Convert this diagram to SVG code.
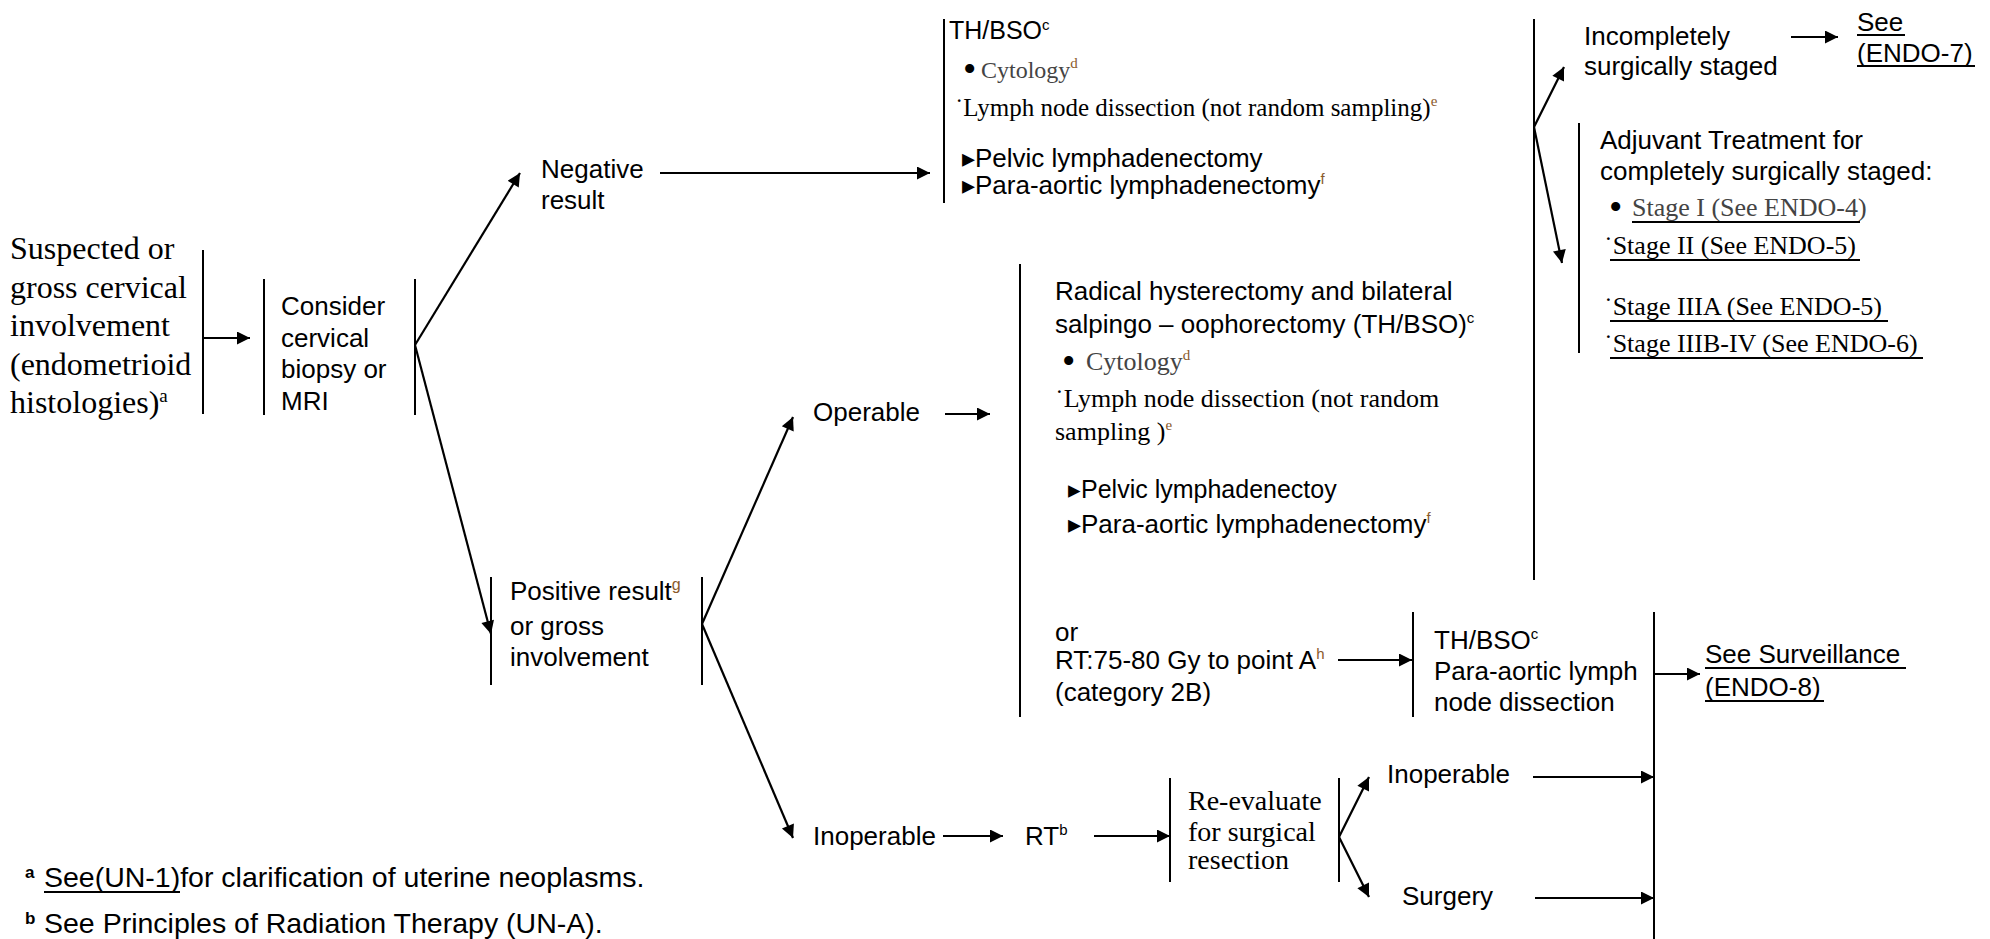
<svg xmlns="http://www.w3.org/2000/svg" width="1990" height="939" viewBox="0 0 1990 939">
<defs>
<style>
.a{font-family:"Liberation Sans",Arial,sans-serif;font-size:26px;fill:#000}
.t{font-family:"Liberation Serif","Times New Roman",serif;font-size:26px;fill:#000}
.bu{font-family:"Liberation Serif","Times New Roman",serif;font-size:38px;fill:#000}
.g{fill:#444}
.br{fill:#8a5a2b}
.bar{stroke:#000;stroke-width:2;fill:none}
.ul{stroke:#000;stroke-width:2}
.ar{stroke:#000;stroke-width:2.2;fill:none;marker-end:url(#ah)}
</style>
<marker id="ah" viewBox="0 0 10 10" refX="10" refY="5" markerWidth="16" markerHeight="13" markerUnits="userSpaceOnUse" orient="auto">
<path d="M0,0 L10,5 L0,10 z" fill="#000"/>
</marker>
</defs>
<rect width="1990" height="939" fill="#fff"/>

<g id="suspected">
<line class="bar" x1="203" y1="250" x2="203" y2="414"/>
<text class="t" style="font-size:32px" x="10" y="259">Suspected or</text>
<text class="t" style="font-size:32px" x="10" y="297.5">gross cervical</text>
<text class="t" style="font-size:32px" x="10" y="336">involvement</text>
<text class="t" style="font-size:32px" x="10" y="374.5">(endometrioid</text>
<text class="t" style="font-size:32px" x="10" y="413">histologies)<tspan font-size="19" dy="-11">a</tspan></text>
</g>

<g id="consider">
<line class="bar" x1="264" y1="279" x2="264" y2="415"/>
<line class="bar" x1="415" y1="279" x2="415" y2="415"/>
<text class="a" x="281" y="315">Consider</text>
<text class="a" x="281" y="347">cervical</text>
<text class="a" x="281" y="378">biopsy or</text>
<text class="a" x="281" y="410">MRI</text>
</g>

<g id="negative">
<text class="a" x="541" y="178">Negative</text>
<text class="a" x="541" y="209">result</text>
</g>

<g id="thbso-top">
<line class="bar" x1="944" y1="19" x2="944" y2="203"/>
<text class="a" x="949" y="39" style="font-size:25px">TH/BSO<tspan font-size="15" dy="-9">c</tspan></text>
<text class="bu" x="963" y="82">•</text>
<text class="t g" x="981" y="78" style="font-size:24px">Cytology<tspan class="br" font-size="15" dy="-10">d</tspan></text>
<text class="t" x="955" y="116" style="font-size:25px">˙Lymph node dissection (not random sampling)<tspan class="br" font-size="15" dy="-10">e</tspan></text>
<text class="a" x="962" y="167">▸Pelvic lymphadenectomy</text>
<text class="a" x="962" y="194">▸Para-aortic lymphadenectomy<tspan class="br" font-size="15" dy="-10">f</tspan></text>
</g>

<g id="incomplete">
<line class="bar" x1="1534" y1="19" x2="1534" y2="580"/>
<text class="a" x="1584" y="45">Incompletely</text>
<text class="a" x="1584" y="75">surgically staged</text>
</g>

<g id="endo7">
<text class="a" x="1857" y="31">See</text>
<line class="ul" x1="1857" y1="35" x2="1905" y2="35"/>
<text class="a" x="1857" y="62">(ENDO-7)</text>
<line class="ul" x1="1857" y1="66" x2="1975" y2="66"/>
</g>

<g id="adjuvant">
<line class="bar" x1="1579" y1="123" x2="1579" y2="353"/>
<text class="a" x="1600" y="149">Adjuvant Treatment for</text>
<text class="a" x="1600" y="180">completely surgically staged:</text>
<text class="bu" x="1609" y="220">•</text>
<text class="t g" x="1632" y="216">Stage I (See ENDO-4)</text>
<line class="ul" x1="1632" y1="222" x2="1860" y2="222"/>
<text class="t" x="1604" y="254">˙Stage II (See ENDO-5)</text>
<line class="ul" x1="1610" y1="260" x2="1860" y2="260"/>
<text class="t" x="1604" y="315">˙Stage IIIA (See ENDO-5)</text>
<line class="ul" x1="1610" y1="321" x2="1888" y2="321"/>
<text class="t" x="1604" y="352">˙Stage IIIB-IV (See ENDO-6)</text>
<line class="ul" x1="1610" y1="358" x2="1923" y2="358"/>
</g>

<g id="positive">
<line class="bar" x1="491" y1="577" x2="491" y2="685"/>
<line class="bar" x1="702" y1="577" x2="702" y2="685"/>
<text class="a" x="510" y="600">Positive result<tspan class="br" font-size="16" dy="-10">g</tspan></text>
<text class="a" x="510" y="635">or gross</text>
<text class="a" x="510" y="666">involvement</text>
</g>

<g id="operable">
<text class="a" x="813" y="421">Operable</text>
</g>

<g id="radical">
<line class="bar" x1="1020" y1="264" x2="1020" y2="717"/>
<text class="a" x="1055" y="300">Radical hysterectomy and bilateral</text>
<text class="a" x="1055" y="333">salpingo – oophorectomy (TH/BSO)<tspan font-size="15" dy="-10">c</tspan></text>
<text class="bu" x="1062" y="374">•</text>
<text class="t g" x="1086" y="370">Cytology<tspan class="br" font-size="15" dy="-10">d</tspan></text>
<text class="t" x="1055" y="407">˙Lymph node dissection (not random</text>
<text class="t" x="1055" y="440">sampling )<tspan class="br" font-size="15" dy="-10">e</tspan></text>
<text class="a" x="1068" y="498" style="font-size:25px">▸Pelvic lymphadenectoy</text>
<text class="a" x="1068" y="533">▸Para-aortic lymphadenectomy<tspan class="br" font-size="15" dy="-10">f</tspan></text>
<text class="a" x="1055" y="641">or</text>
<text class="a" x="1055" y="669">RT:75-80 Gy to point A<tspan class="br" font-size="15" dy="-10">h</tspan></text>
<text class="a" x="1055" y="701">(category 2B)</text>
</g>

<g id="thbso-mid">
<line class="bar" x1="1413" y1="612" x2="1413" y2="717"/>
<text class="a" x="1434" y="649">TH/BSO<tspan font-size="15" dy="-10">c</tspan></text>
<text class="a" x="1434" y="680">Para-aortic lymph</text>
<text class="a" x="1434" y="711">node dissection</text>
</g>

<g id="surveillance">
<line class="bar" x1="1654" y1="612" x2="1654" y2="939"/>
<text class="a" x="1705" y="663">See Surveillance</text>
<line class="ul" x1="1705" y1="668" x2="1906" y2="668"/>
<text class="a" x="1705" y="696">(ENDO-8)</text>
<line class="ul" x1="1705" y1="701" x2="1824" y2="701"/>
</g>

<g id="inoperable">
<text class="a" x="813" y="845">Inoperable</text>
</g>

<g id="rt">
<text class="a" x="1025" y="845">RT<tspan font-size="15" dy="-10">b</tspan></text>
</g>

<g id="reevaluate">
<line class="bar" x1="1170" y1="778" x2="1170" y2="882"/>
<line class="bar" x1="1339" y1="778" x2="1339" y2="882"/>
<text class="t" x="1188" y="810" style="font-size:28px">Re-evaluate</text>
<text class="t" x="1188" y="841" style="font-size:28px">for surgical</text>
<text class="t" x="1188" y="869" style="font-size:28px">resection</text>
</g>

<g id="inoperable2">
<text class="a" x="1387" y="783">Inoperable</text>
</g>

<g id="surgery">
<text class="a" x="1402" y="905">Surgery</text>
</g>

<g id="footnotes">
<text class="a" x="25" y="878" style="font-size:17px;font-weight:bold">a</text>
<text class="a" x="44" y="887" style="font-size:28.5px">See(UN-1)for clarification of uterine neoplasms.</text>
<line class="ul" x1="44" y1="892" x2="180" y2="892"/>
<text class="a" x="25" y="924" style="font-size:17px;font-weight:bold">b</text>
<text class="a" x="44" y="933" style="font-size:28.5px">See Principles of Radiation Therapy (UN-A).</text>
</g>

<g id="connectors">
<line class="ar" x1="203" y1="338" x2="250" y2="338"/>
<line class="ar" x1="415" y1="345" x2="520" y2="173"/>
<line class="ar" x1="415" y1="345" x2="491" y2="634"/>
<line class="ar" x1="660" y1="173" x2="930" y2="173"/>
<line class="ar" x1="1534" y1="127" x2="1564" y2="67"/>
<line class="ar" x1="1534" y1="127" x2="1562" y2="263"/>
<line class="ar" x1="1791" y1="37" x2="1838" y2="37"/>
<line class="ar" x1="945" y1="414" x2="990" y2="414"/>
<line class="ar" x1="702" y1="624" x2="793" y2="417"/>
<line class="ar" x1="702" y1="624" x2="793" y2="838"/>
<line class="ar" x1="1338" y1="660" x2="1412" y2="660"/>
<line class="ar" x1="1654" y1="674" x2="1700" y2="674"/>
<line class="ar" x1="943" y1="836" x2="1003" y2="836"/>
<line class="ar" x1="1094" y1="836" x2="1170" y2="836"/>
<line class="ar" x1="1339" y1="837" x2="1369" y2="777"/>
<line class="ar" x1="1339" y1="837" x2="1369" y2="897"/>
<line class="ar" x1="1533" y1="777" x2="1654" y2="777"/>
<line class="ar" x1="1535" y1="898" x2="1654" y2="898"/>
</g>
</svg>
